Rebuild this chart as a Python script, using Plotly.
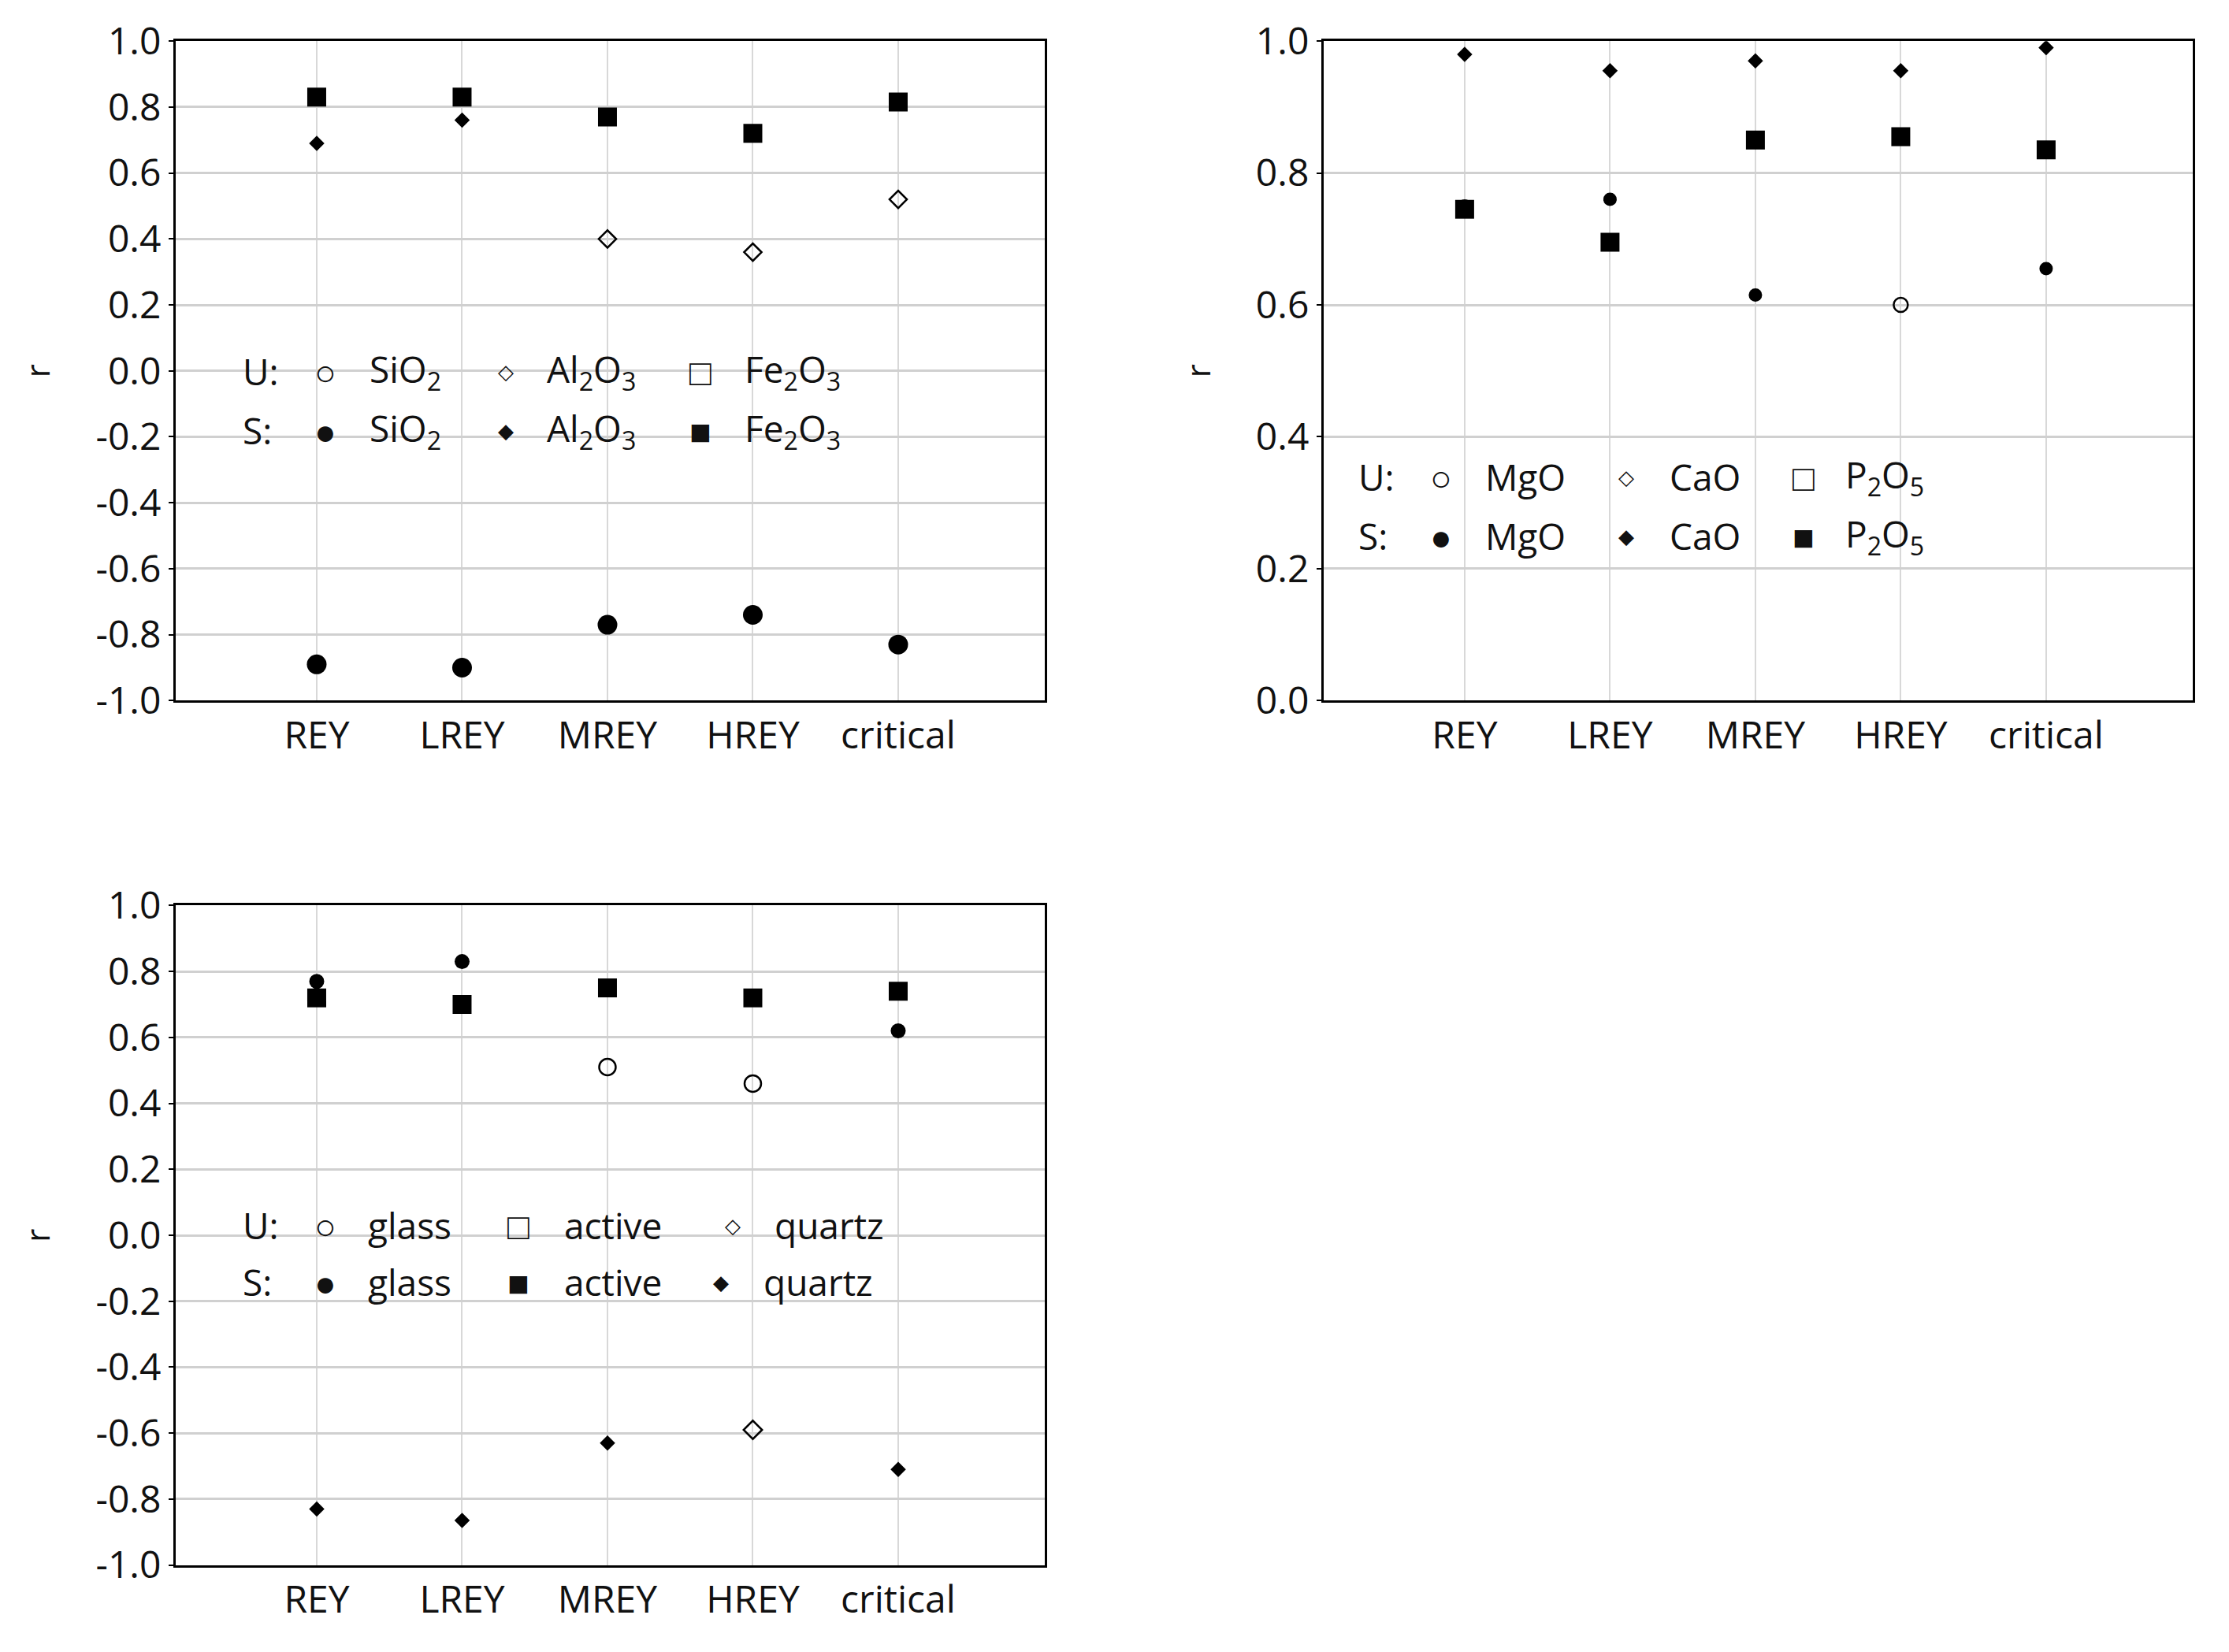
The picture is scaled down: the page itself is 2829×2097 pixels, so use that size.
import plotly.graph_objects as go

cats = ["REY", "LREY", "MREY", "HREY", "critical"]

# Panel 1
p1_S_Fe2O3 = [0.83, 0.83, 0.77, 0.72, 0.815]
p1_S_Al2O3 = [0.69, 0.76, None, None, None]
p1_U_Al2O3 = [None, None, 0.40, 0.36, 0.52]
p1_S_SiO2 = [-0.89, -0.90, -0.77, -0.74, -0.83]
# Panel 2
p2_S_CaO = [0.98, 0.955, 0.97, 0.955, 0.99]
p2_S_P2O5 = [0.745, 0.695, 0.85, 0.855, 0.835]
p2_S_MgO = [0.75, 0.76, 0.615, None, 0.655]
p2_U_MgO = [None, None, None, 0.60, None]
# Panel 3
p3_S_glass = [0.77, 0.83, None, None, 0.62]
p3_U_glass = [None, None, 0.51, 0.46, None]
p3_S_active = [0.72, 0.70, 0.75, 0.72, 0.74]
p3_S_quartz = [-0.83, -0.865, -0.63, None, -0.71]
p3_U_quartz = [None, None, None, -0.59, None]

yt_full = [-1.0, -0.8, -0.6, -0.4, -0.2, 0.0, 0.2, 0.4, 0.6, 0.8, 1.0]
yt_pos = [0.0, 0.2, 0.4, 0.6, 0.8, 1.0]

FONT = "Open Sans"
fig = go.Figure()
xi = list(range(len(cats)))

def add(vals, sym, size, ax, open_=False):
    n = "" if ax == 1 else str(ax)
    fig.add_trace(go.Scatter(
        x=xi, y=vals, mode="markers", xaxis="x" + n, yaxis="y" + n, showlegend=False,
        marker=dict(symbol=sym + ("-open" if open_ else ""), size=size, color="black",
                    line=dict(color="black", width=2.5 if open_ else 0))))

add(p1_S_Fe2O3, "square", 24, 1)
add(p1_S_Al2O3, "diamond", 15, 1)
add(p1_U_Al2O3, "diamond", 17, 1, True)
add(p1_S_SiO2, "circle", 25, 1)
add(p2_S_MgO, "circle", 17, 2)
add(p2_U_MgO, "circle", 18, 2, True)
add(p2_S_CaO, "diamond", 15, 2)
add(p2_S_P2O5, "square", 24, 2)
add(p3_S_glass, "circle", 19, 3)
add(p3_U_glass, "circle", 21, 3, True)
add(p3_S_active, "square", 24, 3)
add(p3_S_quartz, "diamond", 15, 3)
add(p3_U_quartz, "diamond", 18, 3, True)

def xax(dom, anchor):
    return dict(domain=dom, anchor=anchor, range=[-0.97, 5.01], tickvals=xi, ticktext=cats,
                showgrid=True, gridcolor="#d8d8d8", gridwidth=2, zeroline=False,
                showline=True, linecolor="black", linewidth=3, mirror=True,
                ticks="", tickfont=dict(size=48, family=FONT, color="#111"))

def yax(dom, anchor, tv, rng):
    return dict(domain=dom, anchor=anchor, range=rng, tickvals=tv,
                ticktext=[f"{v:.1f}" for v in tv],
                showgrid=True, gridcolor="#d0d0d0", gridwidth=3, zeroline=False,
                showline=True, linecolor="black", linewidth=3, mirror=True,
                ticks="outside", ticklen=6, tickwidth=2, tickcolor="black",
                tickfont=dict(size=48, family=FONT, color="#111"),
                title=dict(text="r", font=dict(size=42, family=FONT, color="#111"), standoff=45))

fig.update_layout(
    width=2829, height=2097, paper_bgcolor="white", plot_bgcolor="white",
    margin=dict(l=0, r=0, t=0, b=0),
    xaxis=xax([0.076, 0.466], "y"), yaxis=yax([0.583, 0.995], "x", yt_full, [-1.0, 1.0]),
    xaxis2=xax([0.591, 0.981], "y2"), yaxis2=yax([0.583, 0.995], "x2", yt_pos, [0.0, 1.0]),
    xaxis3=xax([0.076, 0.466], "y3"), yaxis3=yax([0.043, 0.455], "x3", yt_full, [-1.0, 1.0]),
)

def leg(ax, items):
    n = "" if ax == 1 else str(ax)
    for x, y, t, anc in items:
        small = t in ("◆", "◇")
        fig.add_annotation(x=x, y=y, xref="x" + n, yref="y" + n, text=t, showarrow=False,
                           xanchor=anc,
                           font=dict(size=26 if small else 46, family=FONT, color="#111"))

S = "center"; L = "left"
leg(1, [(-0.52, 0.0, "U:", L), (0.06, 0.0, "○", S), (0.35, 0.0, "SiO<sub>2</sub>", L),
        (1.30, 0.0, "◇", S), (1.57, 0.0, "Al<sub>2</sub>O<sub>3</sub>", L),
        (2.64, 0.0, "□", S), (2.93, 0.0, "Fe<sub>2</sub>O<sub>3</sub>", L),
        (-0.52, -0.18, "S:", L), (0.06, -0.18, "●", S), (0.35, -0.18, "SiO<sub>2</sub>", L),
        (1.30, -0.18, "◆", S), (1.57, -0.18, "Al<sub>2</sub>O<sub>3</sub>", L),
        (2.64, -0.18, "■", S), (2.93, -0.18, "Fe<sub>2</sub>O<sub>3</sub>", L)])
leg(2, [(-0.74, 0.34, "U:", L), (-0.16, 0.34, "○", S), (0.13, 0.34, "MgO", L),
        (1.11, 0.34, "◇", S), (1.40, 0.34, "CaO", L),
        (2.33, 0.34, "□", S), (2.61, 0.34, "P<sub>2</sub>O<sub>5</sub>", L),
        (-0.74, 0.25, "S:", L), (-0.16, 0.25, "●", S), (0.13, 0.25, "MgO", L),
        (1.11, 0.25, "◆", S), (1.40, 0.25, "CaO", L),
        (2.33, 0.25, "■", S), (2.61, 0.25, "P<sub>2</sub>O<sub>5</sub>", L)])
leg(3, [(-0.52, 0.03, "U:", L), (0.06, 0.03, "○", S), (0.34, 0.03, "glass", L),
        (1.39, 0.03, "□", S), (1.69, 0.03, "active", L),
        (2.86, 0.03, "◇", S), (3.14, 0.03, "quartz", L),
        (-0.52, -0.14, "S:", L), (0.06, -0.14, "●", S), (0.34, -0.14, "glass", L),
        (1.39, -0.14, "■", S), (1.69, -0.14, "active", L),
        (2.78, -0.14, "◆", S), (3.06, -0.14, "quartz", L)])

fig.write_html("out.html")
